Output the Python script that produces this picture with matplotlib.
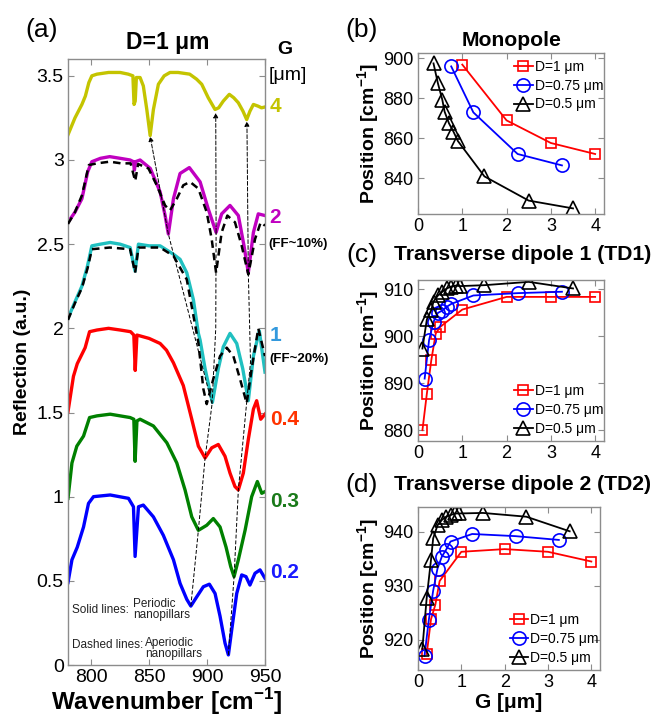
import numpy as np
import matplotlib
matplotlib.use('Agg')
import matplotlib.pyplot as plt
from matplotlib.ticker import FormatStrFormatter

plt.rcParams['font.family'] = ['Liberation Sans', 'DejaVu Sans']
plt.rcParams['mathtext.fontset'] = 'custom'
plt.rcParams['mathtext.rm'] = 'Liberation Sans'
plt.rcParams['mathtext.bf'] = 'Liberation Sans:bold'

# ---------------- panel (a): spectra ----------------
wn_g4 = [780, 783, 786, 789, 792, 795, 798, 800.6, 805, 815, 825, 832, 836, 837, 838, 839, 842.2, 845,
         848, 850.9, 853.7, 858, 863, 868, 875, 885, 891, 895.4, 901, 906.9, 910, 914, 919.2, 923, 927,
         931, 934.2, 937, 940, 944, 947, 950]
r_g4 = [3.15, 3.20, 3.25, 3.29, 3.33, 3.38, 3.46, 3.50, 3.51, 3.52, 3.52, 3.51, 3.50, 3.33, 3.35, 3.49,
        3.49, 3.44, 3.30, 3.145, 3.30, 3.45, 3.50, 3.52, 3.52, 3.51, 3.48, 3.45, 3.37, 3.30, 3.31, 3.35,
        3.39, 3.37, 3.34, 3.29, 3.24, 3.29, 3.33, 3.32, 3.31, 3.315]

wn_g2 = [780, 786, 792, 797, 800.6, 808, 816, 825, 833.6, 836.5, 837.3, 838.3, 842.2, 851, 859.5, 863.8,
         866.6, 871, 876.7, 884.7, 894, 901, 907.8, 912.6, 919.8, 927, 931.9, 935.6, 940, 944.2, 950]
r_g2 = [2.63, 2.69, 2.77, 2.93, 2.99, 3.01, 3.02, 3.01, 3.00, 2.99, 2.94, 2.99, 3.00, 2.95, 2.81, 2.67,
        2.56, 2.77, 2.92, 2.955, 2.87, 2.71, 2.57, 2.68, 2.73, 2.67, 2.49, 2.33, 2.57, 2.68, 2.67]

wn_g2_ap = [780, 786, 792, 798, 805, 816, 826, 834, 838, 840.5, 849.4, 856.6, 863.8, 868, 873.9, 879.5,
            885.3, 892.5, 899.7, 904, 907.8, 912.6, 917.5, 924.1, 929.9, 935.6, 941.4, 946.3, 950]
r_g2_ap = [2.62, 2.69, 2.79, 2.97, 2.98, 2.99, 2.98, 2.98, 2.875, 2.976, 2.95, 2.85, 2.73, 2.70, 2.77,
           2.85, 2.87, 2.83, 2.69, 2.53, 2.33, 2.57, 2.67, 2.63, 2.49, 2.32, 2.53, 2.63, 2.61]

wn_g1 = [780, 786.2, 792, 796.8, 800.6, 808, 816.4, 825, 833.6, 837.9, 840.8, 850, 859.5, 871, 876.7,
         882.5, 888.2, 892.5, 894, 898.3, 904.6, 909.7, 914, 919.8, 925.6, 930.8, 935.6, 940, 945.1, 950]
r_g1 = [2.06, 2.16, 2.25, 2.37, 2.49, 2.50, 2.51, 2.50, 2.48, 2.34, 2.50, 2.49, 2.49, 2.44, 2.41, 2.33,
        2.17, 1.97, 1.93, 1.76, 1.56, 1.76, 1.89, 1.97, 1.91, 1.76, 1.57, 1.835, 1.985, 1.74]

wn_g1_ap = [780, 786, 792, 797, 800.6, 816, 833.6, 837.9, 840.8, 859.5, 871, 882.5, 892.5, 896.8, 899.7,
            905.4, 911.2, 917, 922.7, 928.4, 934.2, 938.5, 944.2, 950]
r_g1_ap = [2.05, 2.15, 2.24, 2.36, 2.47, 2.48, 2.47, 2.33, 2.48, 2.48, 2.43, 2.29, 1.915, 1.64, 1.55,
           1.70, 1.835, 1.885, 1.835, 1.70, 1.555, 1.76, 2.00, 1.835]

wn_g04 = [780, 784.7, 788, 794.8, 798.6, 805, 815, 825, 834, 836.8, 838, 839.5, 842.2, 850, 859.5, 865,
          871, 879.5, 886.8, 892.5, 898.3, 904, 909.7, 915.5, 919.8, 924.1, 927, 931.3, 935.6, 940,
          942.8, 946.3, 950]
r_g04 = [1.505, 1.715, 1.79, 1.885, 1.98, 1.99, 2.00, 1.99, 1.98, 1.96, 1.75, 1.96, 1.955, 1.94, 1.91,
         1.87, 1.795, 1.66, 1.46, 1.30, 1.23, 1.29, 1.31, 1.24, 1.14, 1.06, 1.04, 1.14, 1.34, 1.52,
         1.57, 1.46, 1.49]

wn_g03 = [780, 783.4, 787.6, 793.4, 798.6, 805, 816.4, 825, 833.6, 836.8, 837.9, 839.5, 842.2, 853.7,
          865.3, 873.9, 881, 886.8, 892.5, 899.7, 905.4, 911.2, 916.4, 920.4, 923.3, 927, 932.8, 938.5,
          943.4, 947.2, 950]
r_g03 = [0.99, 1.20, 1.30, 1.36, 1.47, 1.48, 1.49, 1.48, 1.47, 1.46, 1.21, 1.45, 1.46, 1.42, 1.32, 1.20,
         1.04, 0.88, 0.80, 0.83, 0.87, 0.82, 0.70, 0.585, 0.525, 0.625, 0.80, 1.00, 1.09, 1.02, 1.03]

wn_g02 = [780, 783.4, 788, 793.4, 797.7, 802, 816.4, 832.2, 836.5, 837.9, 840.8, 845, 853.7, 862.3, 871,
          876.7, 882.5, 886, 891.1, 896.8, 902, 906.9, 911.2, 915.5, 918.4, 921.3, 925.6, 929.9, 933.6,
          937, 941.4, 945.7, 950]
r_g02 = [0.49, 0.625, 0.70, 0.82, 0.96, 1.00, 1.01, 0.99, 0.94, 0.645, 0.94, 0.95, 0.88, 0.77, 0.625,
         0.485, 0.39, 0.35, 0.405, 0.465, 0.48, 0.425, 0.29, 0.13, 0.06, 0.21, 0.425, 0.535, 0.525,
         0.475, 0.545, 0.565, 0.515]

# guide lines through the resonance minima
mono_wn = [886.0, 892.5, 898.3, 904.3, 866.6]
mono_r = [0.35, 0.80, 1.23, 1.55, 2.56]
mono_tip = (850.9, 3.14)
td1_wn = [904.3, 907.5, 907.8]
td1_r = [1.55, 2.0, 2.57]
td1_tip = (907.5, 3.28)
td2_wn = [918.4, 923.3, 927.0, 937.5, 935.6]
td2_r = [0.06, 0.525, 1.04, 1.80, 2.33]
td2_tip = (934.4, 3.23)

g_labels = ['4', '2', '1', '0.4', '0.3', '0.2']
g_label_r = [3.32, 2.66, 1.96, 1.46, 0.97, 0.55]
g_label_colors = ['#c4c400', '#c000c0', '#3399dd', '#ff3300', '#1a7a1a', '#1a1aff']

# ---------------- panels (b)-(d): resonance positions vs G ----------------
g_d1_mono = [1, 2, 3, 4]
p_d1_mono = [896.7, 868.8, 857.5, 852.0]
g_d075_mono = [0.75, 1.25, 2.25, 3.25]
p_d075_mono = [895.8, 872.8, 852.0, 846.3]
g_d05_mono = [0.35, 0.45, 0.55, 0.6, 0.7, 0.8, 0.9, 1.5, 2.5, 3.5]
p_d05_mono = [897.3, 887.3, 879.0, 873.2, 867.3, 863.2, 858.5, 840.8, 828.7, 824.8]

g_d1 = [0.1, 0.2, 0.3, 0.4, 0.5, 1, 2, 3, 4]
p_d1_td1 = [880.0, 887.8, 894.9, 900.6, 902.0, 905.7, 908.4, 908.4, 908.4]
g_d1_td2 = [0.2, 0.3, 0.4, 0.5, 1, 2, 3, 4]
p_d1_td2 = [917.3, 923.8, 926.5, 930.9, 936.3, 936.8, 936.3, 934.5]

g_d075 = [0.15, 0.25, 0.35, 0.45, 0.55, 0.65, 0.75, 1.25, 2.25, 3.25]
p_d075_td1 = [891.0, 899.2, 903.1, 905.0, 905.5, 906.3, 906.9, 908.7, 909.2, 909.5]
p_d075_td2 = [917.0, 923.7, 929.1, 933.2, 935.4, 936.7, 938.2, 939.6, 939.2, 938.5]

g_d05 = [0.1, 0.2, 0.3, 0.35, 0.45, 0.55, 0.65, 0.75, 0.85, 0.95, 1.5, 2.5, 3.5]
p_d05_td1 = [897.4, 903.6, 905.6, 907.4, 908.7, 909.5, 910.2, 910.6, 910.8, 910.7, 910.9, 911.6, 910.2]
p_d05_td2 = [918.3, 927.7, 934.8, 938.8, 941.2, 942.2, 942.8, 943.1, 943.4, 943.4, 943.5, 942.8, 940.1]

W, H = 655, 717
fig = plt.figure(figsize=(W / 100, H / 100), dpi=100)


def box(l, t, r, b):
    return [l / W, 1 - b / H, (r - l) / W, (b - t) / H]


def style_axes(ax, size):
    for s in ax.spines.values():
        s.set_color('#8c8c8c')
        s.set_linewidth(1.0)
    ax.tick_params(direction='in', top=True, right=True, length=4, width=0.8,
                   color='#8c8c8c', labelsize=size, pad=3)


# ---- (a)
ax = fig.add_axes(box(68, 59, 265, 665))
ax.plot(wn_g4, r_g4, color='#c4c400', lw=2.4)
ax.plot(wn_g2, r_g2, color='#c000c0', lw=2.4)
ax.plot(wn_g1, r_g1, color='#20c0c0', lw=2.4)
ax.plot(wn_g04, r_g04, color='#ff0000', lw=2.4)
ax.plot(wn_g03, r_g03, color='#008000', lw=2.4)
ax.plot(wn_g02, r_g02, color='#0000ff', lw=2.4)
ax.plot(wn_g2_ap, r_g2_ap, color='k', lw=1.8, ls=(0, (3, 2)), zorder=3)
ax.plot(wn_g1_ap, r_g1_ap, color='k', lw=1.8, ls=(0, (3, 2)), zorder=3)

for xs, ys, tip in [(mono_wn, mono_r, mono_tip), (td1_wn, td1_r, td1_tip), (td2_wn, td2_r, td2_tip)]:
    ax.plot(xs, ys, color='k', lw=0.7, ls=(0, (4, 2)), zorder=4)
    ax.annotate('', xy=tip, xytext=(xs[-1], ys[-1]), zorder=4,
                arrowprops=dict(arrowstyle='-|>', color='k', lw=0.7, ls=(0, (4, 2)),
                                mutation_scale=7, shrinkA=0, shrinkB=0))

ax.set_xlim(780, 950)
ax.set_ylim(0, 3.6)
ax.set_xticks([800, 850, 900, 950])
ax.set_yticks([0, 0.5, 1, 1.5, 2, 2.5, 3, 3.5])
ax.yaxis.set_major_formatter(FormatStrFormatter('%g'))
style_axes(ax, 14)
ax.set_xlabel('Wavenumber [cm$^{\\mathbf{-1}}$]', fontsize=17.5, fontweight='bold', labelpad=0)
ax.set_ylabel('Reflection (a.u.)', fontsize=14, fontweight='bold', labelpad=4)

for lab, r, c in zip(g_labels, g_label_r, g_label_colors):
    ax.text(954, r, lab, color=c, fontsize=15, fontweight='bold', va='center', ha='left', clip_on=False)
ax.text(953, 2.5, '(FF~10%)', fontsize=9.5, fontweight='bold', va='center', ha='left', clip_on=False)
ax.text(954, 1.815, '(FF~20%)', fontsize=9.5, fontweight='bold', va='center', ha='left', clip_on=False)

ax.text(783.6, 0.327, 'Solid lines:', fontsize=8.5, va='center', ha='left', color='#222222')
ax.text(836.2, 0.33, 'Periodic\nnanopillars', fontsize=8.5, va='center', ha='left', linespacing=0.9,
        color='#222222')
ax.text(783.6, 0.119, 'Dashed lines:', fontsize=8.5, va='center', ha='left', color='#222222')
ax.text(846.6, 0.10, 'Aperiodic\nnanopillars', fontsize=8.5, va='center', ha='left', linespacing=0.9,
        color='#222222')

fig.text(42 / W, 1 - 30 / H, '(a)', fontsize=19, ha='center', va='center')
fig.text(168 / W, 1 - 43 / H, 'D=1 μm', fontsize=16.5, fontweight='bold', ha='center', va='center')
fig.text(285 / W, 1 - 50 / H, 'G', fontsize=14, fontweight='bold', ha='center', va='center')
fig.text(288 / W, 1 - 76 / H, '[μm]', fontsize=14, ha='center', va='center')

# ---- (b)-(d)
panels = [
    (box(418, 53, 604, 214), (822, 902.5), [840, 860, 880, 900], 'Monopole', '(b)', 30, 40,
     [(g_d1_mono, p_d1_mono), (g_d075_mono, p_d075_mono), (g_d05_mono, p_d05_mono)], 'upper right'),
    (box(418, 280, 604, 441), (877.7, 912), [880, 890, 900, 910], 'Transverse dipole 1 (TD1)', '(c)', 255, 255,
     [(g_d1, p_d1_td1), (g_d075, p_d075_td1), (g_d05, p_d05_td1)], 'lower right'),
    (box(418, 507, 600, 670), (914.4, 944.6), [920, 930, 940], 'Transverse dipole 2 (TD2)', '(d)', 485, 485,
     [(g_d1_td2, p_d1_td2), (g_d075, p_d075_td2), (g_d05, p_d05_td2)], 'lower right'),
]
series_style = [('#ff0000', 's', 7.5, 'D=1 μm'), ('#0000ff', 'o', 9.5, 'D=0.75 μm'), ('k', '^', 9.5, 'D=0.5 μm')]

for i, (rect, ylim, yt, title, tag, tagy, ty, series, loc) in enumerate(panels):
    axp = fig.add_axes(rect)
    for (gx, py), (c, m, ms, lab) in zip(series, series_style):
        axp.plot(gx, py, color=c, marker=m, ms=ms, mfc='none', mec=c, mew=1.2, lw=1.3, label=lab)
    axp.set_xlim(0, 4.2)
    axp.set_ylim(*ylim)
    axp.set_xticks([0, 1, 2, 3, 4])
    axp.set_yticks(yt)
    style_axes(axp, 13)
    axp.set_ylabel('Position [cm$^{\\mathbf{-1}}$]', fontsize=14, fontweight='bold', labelpad=1)
    if loc == 'upper right':
        anchor = (1.04, 1.01)
    else:
        anchor = (1.04, -0.02)
    axp.legend(loc=loc, frameon=False, fontsize=10, handlelength=1.3, handletextpad=0.15,
               labelspacing=0.35, borderaxespad=0.2, bbox_to_anchor=anchor)
    fig.text(362 / W, 1 - tagy / H, tag, fontsize=19, ha='center', va='center')
    tx = 512 if i == 0 else 523
    fig.text(tx / W, 1 - ty / H, title, fontsize=15.2, fontweight='bold', ha='center', va='center')
    if i == 2:
        axp.set_xlabel('G [μm]', fontsize=15, fontweight='bold', labelpad=1)

fig.savefig('out.png', dpi=100)
